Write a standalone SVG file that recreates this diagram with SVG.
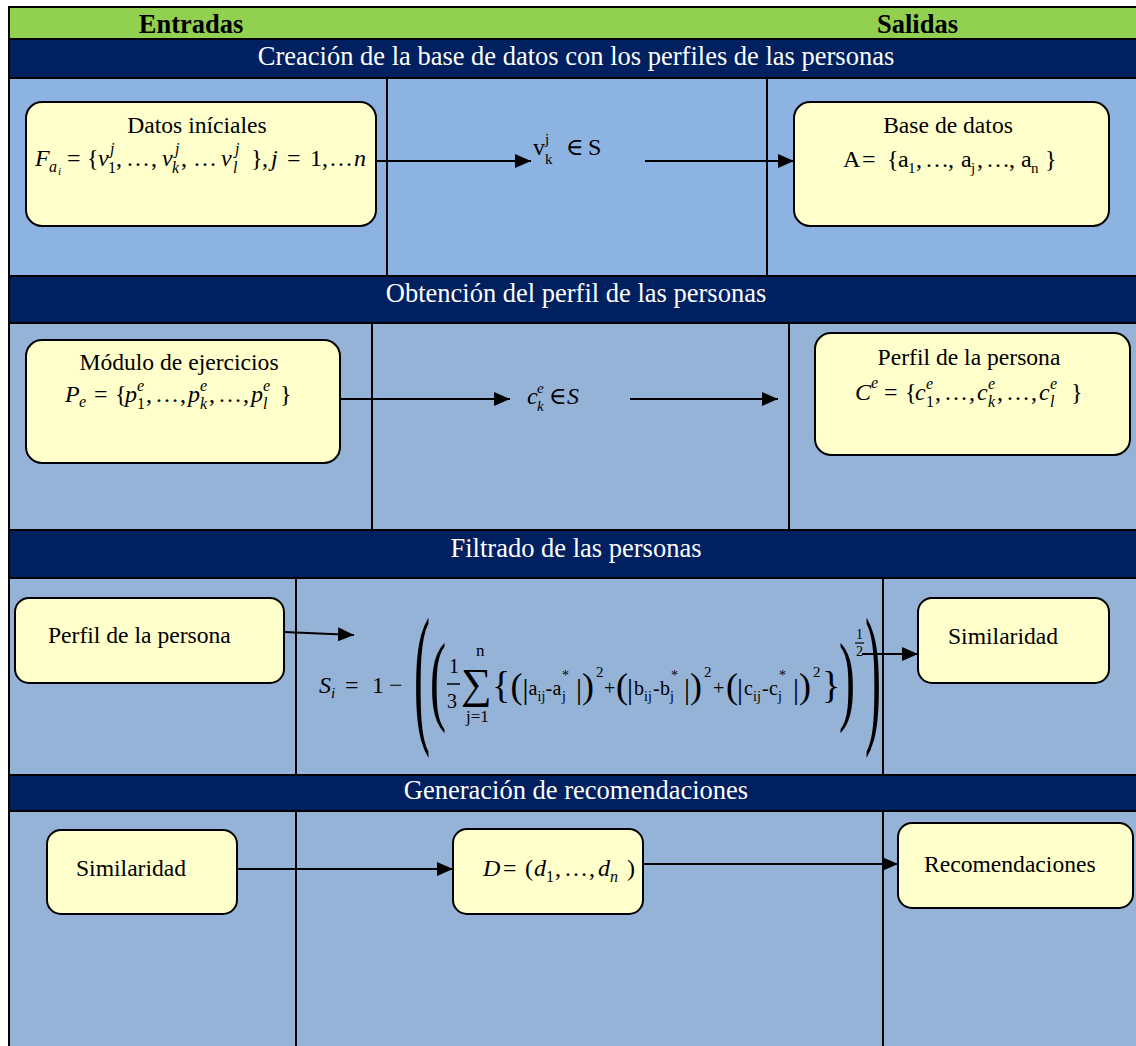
<svg xmlns="http://www.w3.org/2000/svg" width="1136" height="1046" viewBox="0 0 1136 1046">
<defs>
<marker id="ah" markerWidth="16" markerHeight="14" refX="16" refY="7" orient="auto" markerUnits="userSpaceOnUse"><path d="M0,0 L16,7 L0,14 z" fill="#000"/></marker>
<style>
.hdr{fill:#92D050}
.band{fill:#002060}
.b1{fill:#8DB3E2}
.b2{fill:#95B3D7}
.sep{stroke:#000;stroke-width:2;fill:none}
.box{fill:#FFFFCC;stroke:#000;stroke-width:2}
text{font-family:"Liberation Serif","DejaVu Serif",serif;fill:#000}
.ht{font-size:26.5px;font-weight:bold;text-anchor:middle}
.bt{font-size:26.5px;fill:#fff;text-anchor:middle}
.lb{font-size:23.6px}
.c{text-anchor:middle}
.m{font-size:24px;font-style:italic}
.f{font-size:20px}
.u{font-style:normal}
.conn line{stroke:#000;stroke-width:2;marker-end:url(#ah)}
</style>
</defs>
<rect x="0" y="0" width="1136" height="1046" fill="#fff"/>
<g id="lanes">
<rect class="hdr" x="9" y="7" width="1128" height="32"/>
<rect class="band" x="9" y="39" width="1128" height="39"/>
<rect class="b1" x="9" y="78" width="1128" height="198"/>
<rect class="band" x="9" y="276" width="1128" height="47"/>
<rect class="b2" x="9" y="323" width="1128" height="207"/>
<rect class="band" x="9" y="530" width="1128" height="48"/>
<rect class="b2" x="9" y="578" width="1128" height="197"/>
<rect class="band" x="9" y="775" width="1128" height="36"/>
<rect class="b2" x="9" y="811" width="1128" height="240"/>
<rect class="sep" x="9" y="7" width="1128" height="1050"/>
<path class="sep" d="M9,39H1137M9,78H1137M9,276H1137M9,323H1137M9,530H1137M9,578H1137M9,775H1137M9,811H1137"/>
<path class="sep" d="M387,78V276M767,78V276M372,323V530M789,323V530M296,578V775M883,578V775M296,811V1046M883,811V1046"/>
<text class="ht" x="191" y="33">Entradas</text>
<text class="ht" x="917.5" y="33">Salidas</text>
<text class="bt" x="576" y="65">Creación de la base de datos con los perfiles de las personas</text>
<text class="bt" x="576" y="302">Obtención del perfil de las personas</text>
<text class="bt" x="576" y="557">Filtrado de las personas</text>
<text class="bt" x="576" y="799">Generación de recomendaciones</text>
</g>
<g id="connectors" class="conn">
<line x1="376" y1="161" x2="531" y2="161"/>
<line x1="645" y1="161" x2="794" y2="161"/>
<line x1="340" y1="399" x2="510" y2="399"/>
<line x1="630" y1="399" x2="778" y2="399"/>
<line x1="284" y1="632" x2="354" y2="635"/>
<line x1="862" y1="654" x2="918" y2="654"/>
<line x1="237" y1="869" x2="453" y2="869"/>
<line x1="643" y1="864" x2="898" y2="864"/>
</g>
<g id="datos-iniciales">
<rect class="box" x="26" y="102" width="350" height="124" rx="16"/>
<text class="lb c" x="197" y="133">Datos iníciales</text>
<text class="m" y="166"><tspan x="35">F</tspan><tspan x="49" y="172" font-size="16">a</tspan><tspan x="58" y="175" font-size="11">i</tspan><tspan x="67" y="166" class="u">=</tspan><tspan x="87" class="u">{</tspan><tspan x="98">v</tspan><tspan x="110" y="154" font-size="16">j</tspan><tspan x="108" y="173" font-size="16" class="u">1</tspan><tspan x="116" y="166" class="u">,</tspan><tspan x="126" class="u">…</tspan><tspan x="151" class="u">,</tspan><tspan x="162">v</tspan><tspan x="175" y="154" font-size="16">j</tspan><tspan x="172" y="173" font-size="16">k</tspan><tspan x="181" y="166" class="u">,</tspan><tspan x="193" class="u">…</tspan><tspan x="221">v</tspan><tspan x="235" y="154" font-size="16">j</tspan><tspan x="233" y="173" font-size="16">l</tspan><tspan x="251" y="166" class="u">}</tspan><tspan x="262" class="u">,</tspan><tspan x="271">j</tspan><tspan x="287" class="u">=</tspan><tspan x="310" class="u">1</tspan><tspan x="322" class="u">,</tspan><tspan x="329" class="u">…</tspan><tspan x="354">n</tspan></text>
</g>
<g id="label-vk">
<text class="m u" font-size="22" y="155"><tspan x="533">v</tspan><tspan x="545" y="144" font-size="15">j</tspan><tspan x="545" y="164" font-size="15">k</tspan><tspan x="566" y="155">∈</tspan><tspan x="588">S</tspan></text>
</g>
<g id="base-de-datos">
<rect class="box" x="794" y="102" width="315" height="124" rx="16"/>
<text class="lb c" x="948" y="133">Base de datos</text>
<text class="m u" font-size="22" y="167"><tspan x="843">A</tspan><tspan x="862">=</tspan><tspan x="887">{</tspan><tspan x="898">a</tspan><tspan x="908" y="173" font-size="15">1</tspan><tspan x="916" y="167">,</tspan><tspan x="925">…</tspan><tspan x="948">,</tspan><tspan x="961">a</tspan><tspan x="971" y="173" font-size="15">j</tspan><tspan x="977" y="167">,</tspan><tspan x="986">…</tspan><tspan x="1009">,</tspan><tspan x="1021">a</tspan><tspan x="1031" y="173" font-size="15">n</tspan><tspan x="1045" y="167">}</tspan></text>
</g>
<g id="modulo-ejercicios">
<rect class="box" x="26" y="340" width="314" height="123" rx="16"/>
<text class="lb c" x="179" y="370">Módulo de ejercicios</text>
<text class="m" y="402"><tspan x="65">P</tspan><tspan x="79" y="407" font-size="16">e</tspan><tspan x="94" y="402" class="u">=</tspan><tspan x="115" class="u">{</tspan><tspan x="125">p</tspan><tspan x="137" y="391" font-size="16">e</tspan><tspan x="137" y="409" font-size="16" class="u">1</tspan><tspan x="146" y="402" class="u">,</tspan><tspan x="155" class="u">…</tspan><tspan x="180" class="u">,</tspan><tspan x="188">p</tspan><tspan x="200" y="391" font-size="16">e</tspan><tspan x="200" y="409" font-size="16">k</tspan><tspan x="209" y="402" class="u">,</tspan><tspan x="218" class="u">…</tspan><tspan x="243" class="u">,</tspan><tspan x="251">p</tspan><tspan x="263" y="391" font-size="16">e</tspan><tspan x="263" y="409" font-size="16">l</tspan><tspan x="280" y="402" class="u">}</tspan></text>
</g>
<g id="label-ck">
<text class="m" font-size="22" y="404"><tspan x="527">c</tspan><tspan x="537" y="393" font-size="15">e</tspan><tspan x="537" y="411" font-size="15">k</tspan><tspan x="549" y="404" class="u">∈</tspan><tspan x="567">S</tspan></text>
</g>
<g id="perfil-persona-1">
<rect class="box" x="815" y="333" width="315" height="122" rx="16"/>
<text class="lb c" x="969" y="365">Perfil de la persona</text>
<text class="m" y="400"><tspan x="855">C</tspan><tspan x="871" y="388" font-size="16">e</tspan><tspan x="884" y="400" class="u">=</tspan><tspan x="905" class="u">{</tspan><tspan x="915">c</tspan><tspan x="926" y="389" font-size="16">e</tspan><tspan x="926" y="407" font-size="16" class="u">1</tspan><tspan x="935" y="400" class="u">,</tspan><tspan x="944" class="u">…</tspan><tspan x="969" class="u">,</tspan><tspan x="977">c</tspan><tspan x="988" y="389" font-size="16">e</tspan><tspan x="988" y="407" font-size="16">k</tspan><tspan x="997" y="400" class="u">,</tspan><tspan x="1006" class="u">…</tspan><tspan x="1031" class="u">,</tspan><tspan x="1039">c</tspan><tspan x="1050" y="389" font-size="16">e</tspan><tspan x="1050" y="407" font-size="16">l</tspan><tspan x="1071" y="400" class="u">}</tspan></text>
</g>
<g id="perfil-persona-2">
<rect class="box" x="15" y="598" width="269" height="85" rx="14"/>
<text class="lb" x="48" y="643">Perfil de la persona</text>
</g>
<g id="formula-similaridad">
<text class="m" font-size="22" y="693"><tspan x="319">S</tspan><tspan x="331" y="698" font-size="15">i</tspan><tspan x="345" y="693" class="u">=</tspan><tspan x="372" class="u">1</tspan><tspan x="389" class="u">−</tspan></text>
<text font-size="40" transform="translate(414,724.5) scale(1.2,3.85)">(</text>
<text font-size="40" transform="translate(430,712) scale(1.2,2.5)">(</text>
<text class="f" x="449" y="673">1</text>
<line x1="447" y1="684" x2="460" y2="684" stroke="#000" stroke-width="1.5"/>
<text class="f" x="447" y="708">3</text>
<text font-size="17" x="476" y="656">n</text>
<text font-size="17" x="466" y="722">j=1</text>
<text class="f" y="695"><tspan x="461" y="698" font-size="43">∑</tspan><tspan x="492" y="698" font-size="38">{</tspan><tspan x="510.5" font-size="36">(</tspan><tspan x="522.5" y="699" font-size="30">|</tspan><tspan x="528.5" y="695">a</tspan><tspan x="537.5" y="701" font-size="14">ij</tspan><tspan x="545.5" y="695">-</tspan><tspan x="552.5">a</tspan><tspan x="562" y="701" font-size="14">j</tspan><tspan x="562" y="680" font-size="14">*</tspan><tspan x="576" y="699" font-size="30">|</tspan><tspan x="582" y="698" font-size="36">)</tspan><tspan x="596" y="677" font-size="15">2</tspan><tspan x="604" y="695">+</tspan><tspan x="616" y="698" font-size="36">(</tspan><tspan x="627" y="699" font-size="30">|</tspan><tspan x="634" y="695">b</tspan><tspan x="644" y="701" font-size="14">ij</tspan><tspan x="653" y="695">-</tspan><tspan x="660">b</tspan><tspan x="670" y="701" font-size="14">j</tspan><tspan x="671" y="680" font-size="14">*</tspan><tspan x="684" y="699" font-size="30">|</tspan><tspan x="690" y="698" font-size="36">)</tspan><tspan x="704" y="677" font-size="15">2</tspan><tspan x="713" y="695">+</tspan><tspan x="726" y="698" font-size="36">(</tspan><tspan x="737" y="699" font-size="30">|</tspan><tspan x="744" y="695">c</tspan><tspan x="753" y="701" font-size="14">ij</tspan><tspan x="762" y="695">-</tspan><tspan x="769">c</tspan><tspan x="778" y="701" font-size="14">j</tspan><tspan x="779" y="680" font-size="14">*</tspan><tspan x="793" y="699" font-size="30">|</tspan><tspan x="799" y="698" font-size="36">)</tspan><tspan x="813" y="677" font-size="15">2</tspan><tspan x="822" y="698" font-size="38">}</tspan></text>
<text font-size="40" transform="translate(839,712) scale(1.2,2.5)">)</text>
<text font-size="14" x="856" y="639">1</text>
<line x1="855" y1="643" x2="864" y2="643" stroke="#000" stroke-width="1.2"/>
<text font-size="14" x="856" y="656">2</text>
<text font-size="40" transform="translate(865,724.5) scale(1.2,3.85)">)</text>
</g>
<g id="similaridad-1">
<rect class="box" x="918" y="598" width="191" height="85" rx="14"/>
<text class="lb" x="948" y="644">Similaridad</text>
</g>
<g id="similaridad-2">
<rect class="box" x="47" y="830" width="190" height="84" rx="14"/>
<text class="lb" x="76" y="876">Similaridad</text>
</g>
<g id="vector-d">
<rect class="box" x="453" y="829" width="190" height="85" rx="14"/>
<text class="m" y="876"><tspan x="483">D</tspan><tspan x="503" class="u">=</tspan><tspan x="525" class="u">(</tspan><tspan x="534">d</tspan><tspan x="546" y="882" font-size="16" class="u">1</tspan><tspan x="555" y="876" class="u">,</tspan><tspan x="564" class="u">…</tspan><tspan x="589" class="u">,</tspan><tspan x="598">d</tspan><tspan x="610" y="882" font-size="16">n</tspan><tspan x="627" y="876" class="u">)</tspan></text>
</g>
<g id="recomendaciones">
<rect class="box" x="898" y="823" width="235" height="85" rx="14"/>
<text class="lb" x="924" y="872">Recomendaciones</text>
</g>
</svg>
